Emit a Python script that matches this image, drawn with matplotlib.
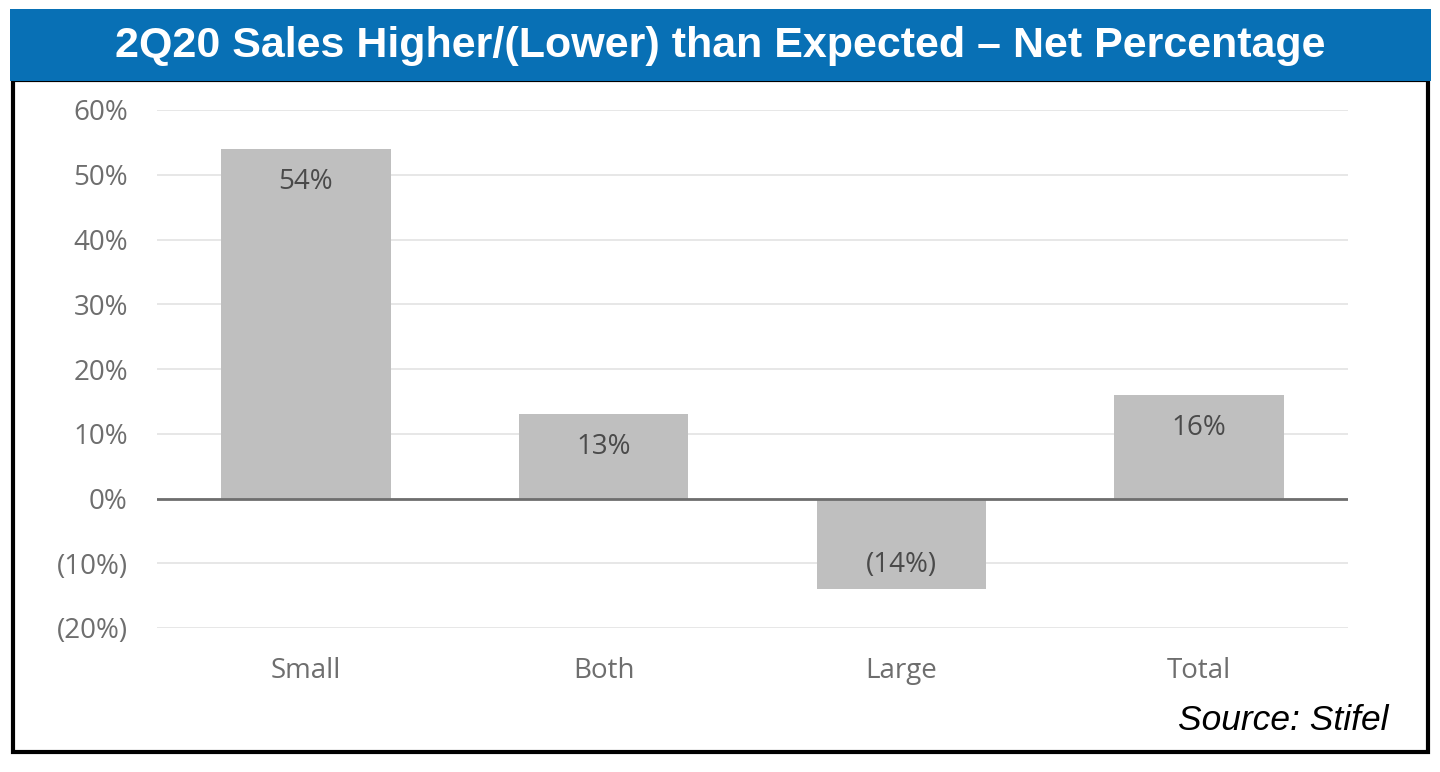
import matplotlib
matplotlib.use("Agg")
import matplotlib.pyplot as plt
from matplotlib.patches import Rectangle

categories = ["Small", "Both", "Large", "Total"]
values = [54, 13, -14, 16]
yticks = [-20, -10, 0, 10, 20, 30, 40, 50, 60]
ytick_labels = ["(20%)", "(10%)", "0%", "10%", "20%", "30%", "40%", "50%", "60%"]
value_labels = ["54%", "13%", "(14%)", "16%"]
title = "2Q20 Sales Higher/(Lower) than Expected \u2013 Net Percentage"
source = "Source: Stifel"

W, H = 1440, 772
fig = plt.figure(figsize=(W / 100, H / 100), dpi=100)
fig.patch.set_facecolor("white")

# black frame
fig.patches.append(Rectangle((13 / W, 1 - 752 / H), (1428 - 13) / W, (752 - 80) / H,
                             transform=fig.transFigure, fill=False, edgecolor="black",
                             linewidth=3, zorder=1))
# blue title bar
fig.patches.append(Rectangle((10 / W, 1 - 81 / H), (1431 - 10) / W, (81 - 9) / H,
                             transform=fig.transFigure, facecolor="#0870b5",
                             edgecolor="none", zorder=2))
fig.text(720 / W, 1 - 46 / H, title, color="white", fontsize=31, fontweight="bold",
         family=["Liberation Sans", "DejaVu Sans"], ha="center", va="center", zorder=3)

ax = fig.add_axes([157 / W, 1 - 628 / H, (1348 - 157) / W, (628 - 110) / H])
ax.set_facecolor("none")
x = list(range(len(categories)))
ax.bar(x, values, width=0.57, color="#bfbfbf", zorder=2)
ax.set_xlim(-0.5, 3.5)
ax.set_ylim(-20, 60)
ax.set_yticks(yticks)
ax.set_yticklabels(ytick_labels)
ax.set_xticks(x)
ax.set_xticklabels(categories)
ax.grid(axis="y", color="#e3e3e3", linewidth=1.2, zorder=0)
ax.axhline(0, color="#6e6e6e", linewidth=2, zorder=3)
for s in ax.spines.values():
    s.set_visible(False)
ax.tick_params(axis="both", length=0, labelsize=20, labelcolor="#6e6e6e")
ax.tick_params(axis="y", pad=21)
ax.tick_params(axis="x", pad=21)
for lab in ax.get_xticklabels() + ax.get_yticklabels():
    lab.set_family(["Open Sans", "DejaVu Sans"])

for xi, v, lab in zip(x, values, value_labels):
    off = -33 if v >= 0 else 24
    ax.annotate(lab, (xi, v), xytext=(0, off), textcoords="offset pixels",
                ha="center", va="center", fontsize=20, color="#4a4a4a",
                family=["Open Sans", "DejaVu Sans"], zorder=4)

fig.text(1389 / W, 1 - 721 / H, source, color="black", fontsize=25.5, style="italic",
         family=["Liberation Sans", "DejaVu Sans"], ha="right", va="center")

fig.savefig("out.png", dpi=100)
